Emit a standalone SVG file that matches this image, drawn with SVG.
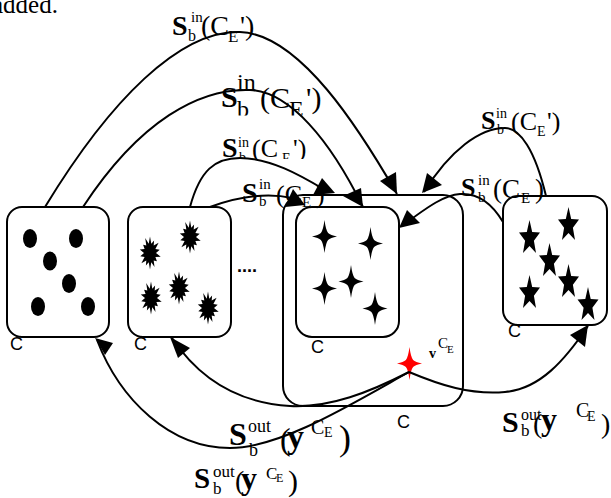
<svg xmlns="http://www.w3.org/2000/svg" width="611" height="498" viewBox="0 0 611 498">
<style>
.box{fill:#fff;stroke:#000;stroke-width:2}
.obox{fill:none;stroke:#000;stroke-width:2}
.cv{fill:none;stroke:#000;stroke-width:2}
.ah{fill:#000;stroke:none}
.m{font-family:"Liberation Serif","Times New Roman",serif;fill:#000}
.bd{font-weight:bold}
.lc{font-family:"Liberation Sans",Arial,sans-serif;font-size:18px;fill:#000}
.sh{fill:#000}
</style>
<defs>
<path id="dotE" d="M-7,0 a7,9.5 0 1,0 14,0 a7,9.5 0 1,0 -14,0 Z"/>
<path id="splat" d="M0,-16.5 L1.3,-9.3 L4.1,-12.6 L3.7,-7.4 L8.6,-10.3 L5.4,-4.1 L9.7,-3.3 L6,0 L10.7,3.7 L5.4,4.1 L6.9,8.2 L3.7,7.4 L4.5,14.1 L1.3,9.3 L0,16.5 L-1.3,9.3 L-4.1,12.6 L-3.7,7.4 L-8.6,10.3 L-5.4,4.1 L-9.7,3.3 L-6,0 L-10.2,-3.5 L-5.4,-4.1 L-6.9,-8.2 L-3.7,-7.4 L-4.8,-14.9 L-1.3,-9.3 Z"/>
<path id="cross" d="M0,-16.5 Q1.4,-6 3.6,-3.6 Q6,-1.4 12.5,0 Q6,1.4 3.6,3.6 Q1.4,6 0,16.5 Q-1.4,6 -3.6,3.6 Q-6,1.4 -12.5,0 Q-6,-1.4 -3.6,-3.6 Q-1.4,-6 0,-16.5 Z"/>
<path id="star" d="M0,-18.3 L2.7,-6.2 L10.5,-5.7 L4.4,2.4 L6.5,14.8 L0,7.7 L-6.5,14.8 L-4.4,2.4 L-10.5,-5.7 L-2.7,-6.2 Z"/>
<clipPath id="clip2"><rect x="150" y="60" width="200" height="55.5"/></clipPath>
<clipPath id="clip3"><rect x="200" y="120" width="120" height="39"/></clipPath>
</defs>

<text class="m" x="-8" y="12.5" font-size="25">added.</text>

<g id="node-outer">
<rect class="obox" x="283" y="195" width="180" height="211" rx="20"/>
<text class="lc" x="397" y="428">C</text>
</g>

<g id="node-dots">
<rect class="box" x="7" y="207" width="102" height="130" rx="15"/>
<use href="#dotE" class="sh" x="30" y="238.5"/>
<use href="#dotE" class="sh" x="76" y="238.5"/>
<use href="#dotE" class="sh" x="50" y="261"/>
<use href="#dotE" class="sh" x="69" y="283.5"/>
<use href="#dotE" class="sh" x="38" y="306.5"/>
<use href="#dotE" class="sh" x="88" y="306.5"/>
<text class="lc" x="10" y="350">C</text>
</g>

<g id="node-splats">
<rect class="box" x="128" y="207" width="103" height="130" rx="15"/>
<use href="#splat" class="sh" x="150" y="253"/>
<use href="#splat" class="sh" x="190" y="237"/>
<use href="#splat" class="sh" x="151" y="298"/>
<use href="#splat" class="sh" x="179" y="288"/>
<use href="#splat" class="sh" x="208" y="308"/>
<text class="lc" x="134" y="350">C</text>
</g>

<text class="lc" x="237" y="272" font-weight="bold" font-size="24">....</text>

<g id="node-crosses">
<rect class="box" x="296" y="207" width="103" height="130" rx="16"/>
<use href="#cross" class="sh" x="324.5" y="236.5"/>
<use href="#cross" class="sh" x="370.5" y="243.5"/>
<use href="#cross" class="sh" x="324.5" y="288.5"/>
<use href="#cross" class="sh" x="351" y="281.5"/>
<use href="#cross" class="sh" x="375" y="308.5"/>
<text class="lc" x="311" y="353">C</text>
</g>

<g id="node-stars">
<rect class="box" x="503" y="196" width="104" height="129" rx="15"/>
<use href="#star" class="sh" x="529.5" y="238.3"/>
<use href="#star" class="sh" x="568.5" y="225.3"/>
<use href="#star" class="sh" x="549.5" y="261.3"/>
<use href="#star" class="sh" x="568.5" y="282.3"/>
<use href="#star" class="sh" x="529.5" y="293.3"/>
<use href="#star" class="sh" x="588" y="305.3"/>
<text class="lc" x="508" y="337">C</text>
</g>

<g id="node-v">
<use href="#cross" fill="#ff0000" x="409.5" y="363.5"/>
<text class="m"><tspan class="bd" x="429" y="358" font-size="14">v</tspan><tspan x="438" y="348" font-size="15">C</tspan><tspan x="447" y="353" font-size="11">E</tspan></text>
</g>

<g id="connectors">
<path class="cv" d="M45,207 C110,100 180,30 240,32 C300,34 360,130 397,194"/>
<polygon class="ah" points="380,181 396,172 397,194"/>
<path class="cv" d="M83,207 C140,120 200,88 250,90 C290,92 330,140 363,207"/>
<polygon class="ah" points="343,196 361,188 363,207"/>
<path class="cv" d="M190,207 C200,170 215,158 240,158 C270,158 300,175 325,190"/>
<polygon class="ah" points="322,178 313,195 335,193"/>
<path class="cv" d="M210,207 C235,198 265,192 292,198"/>
<polygon class="ah" points="293,189 285,207 305,205"/>
<path class="cv" d="M546,196 C535,150 520,128 505,128 C480,128 450,150 424,192"/>
<polygon class="ah" points="427,173 442,185 422,193"/>
<path class="cv" d="M503,222 C490,200 475,193 460,194 C445,195 430,205 402,226"/>
<polygon class="ah" points="407,210 420,223 399,228"/>
<path class="cv" d="M409,372 C440,385 470,395 505,392 C540,389 565,360 588,326"/>
<polygon class="ah" points="588,325 570,335 585,347"/>
<path class="cv" d="M409,372 C350,405 280,448 230,448 C170,448 120,400 97,340"/>
<polygon class="ah" points="95,338 113,343 105,355"/>
<path class="cv" d="M409,372 C370,392 330,408 290,406 C240,403 200,380 172,338"/>
<polygon class="ah" points="170,337 190,348 178,358"/>
</g>

<g id="labels">
<text class="m"><tspan class="bd" x="172" y="35" font-size="28">S</tspan><tspan x="191" y="22" font-size="15">in</tspan><tspan x="188" y="41" font-size="16">b</tspan><tspan x="201" y="35" font-size="28">(C</tspan><tspan x="228" y="42" font-size="17">E</tspan><tspan x="240" y="35" font-size="28">')</tspan></text>
<g clip-path="url(#clip2)">
<text class="m"><tspan class="bd" x="221" y="107" font-size="30">S</tspan><tspan x="237" y="90" font-size="24">in</tspan><tspan x="237" y="117" font-size="24">b</tspan><tspan x="260" y="108" font-size="30">(C</tspan><tspan x="289" y="117" font-size="24">E</tspan><tspan x="306" y="108" font-size="30">')</tspan></text>
</g>
<g clip-path="url(#clip3)">
<text class="m"><tspan class="bd" x="222" y="157" font-size="28">S</tspan><tspan x="238" y="147" font-size="14">in</tspan><tspan x="239" y="162" font-size="14">b</tspan><tspan x="252" y="157" font-size="26">(C</tspan><tspan x="282" y="163" font-size="14">E</tspan><tspan x="293" y="157" font-size="26">')</tspan></text>
</g>
<text class="m"><tspan class="bd" x="242" y="202" font-size="28">S</tspan><tspan x="259" y="189" font-size="15">in</tspan><tspan x="259" y="206" font-size="15">b</tspan><tspan x="276" y="203" font-size="26">(C</tspan><tspan x="302" y="207" font-size="15">E</tspan><tspan x="316" y="203" font-size="26">)</tspan></text>
<text class="m"><tspan class="bd" x="481" y="129" font-size="26">S</tspan><tspan x="496" y="118" font-size="14">in</tspan><tspan x="497" y="134" font-size="14">b</tspan><tspan x="511" y="130" font-size="26">(C</tspan><tspan x="537" y="136" font-size="14">E</tspan><tspan x="547" y="130" font-size="26">')</tspan></text>
<text class="m"><tspan class="bd" x="461" y="196" font-size="26">S</tspan><tspan x="478" y="185" font-size="15">in</tspan><tspan x="478" y="202" font-size="15">b</tspan><tspan x="493" y="198" font-size="27">(C</tspan><tspan x="521" y="203" font-size="15">E</tspan><tspan x="535" y="198" font-size="27">)</tspan></text>
<text class="m"><tspan class="bd" x="502" y="432" font-size="30">S</tspan><tspan x="521" y="420" font-size="16">out</tspan><tspan x="521" y="436" font-size="17">b</tspan><tspan x="533" y="433" font-size="28">(</tspan><tspan class="bd" x="541" y="430" font-size="32">y</tspan><tspan x="576" y="417" font-size="20">C</tspan><tspan x="587" y="421" font-size="14">E</tspan><tspan x="601" y="433" font-size="28">)</tspan></text>
<text class="m"><tspan class="bd" x="229" y="445" font-size="32">S</tspan><tspan x="248" y="432" font-size="18">out</tspan><tspan x="249" y="456" font-size="18">b</tspan><tspan x="280" y="450" font-size="32">(</tspan><tspan class="bd" x="287" y="448" font-size="34">y</tspan><tspan x="311" y="434" font-size="20">C</tspan><tspan x="324" y="437" font-size="14">E</tspan><tspan x="339" y="450" font-size="36">)</tspan></text>
<text class="m"><tspan class="bd" x="194" y="488" font-size="29">S</tspan><tspan x="213" y="477" font-size="17">out</tspan><tspan x="213" y="494" font-size="17">b</tspan><tspan x="235" y="490" font-size="28">(</tspan><tspan class="bd" x="241" y="489" font-size="32">y</tspan><tspan x="266" y="479" font-size="17">C</tspan><tspan x="276" y="482" font-size="12">E</tspan><tspan x="288" y="491" font-size="30">)</tspan></text>
</g>
</svg>
